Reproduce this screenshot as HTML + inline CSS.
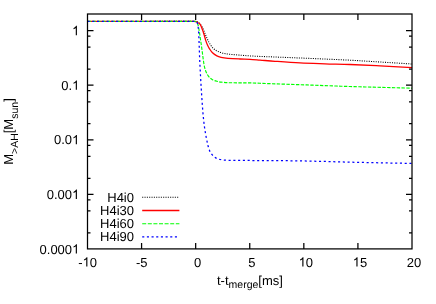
<!DOCTYPE html><html><head><meta charset="utf-8"><style>html,body{margin:0;padding:0;background:#fff;}svg{display:block;will-change:transform;opacity:0.999;}text{font-family:"Liberation Sans",sans-serif;fill:#000;text-rendering:geometricPrecision;}</style></head><body>
<svg width="436" height="304" viewBox="0 0 436 304">
<rect width="436" height="304" fill="#fff"/>
<g fill="none" stroke-linejoin="round">
<path d="M87.50,21.40 C108.33,21.40 129.17,21.40 150.00,21.40 C164.67,21.40 179.33,21.37 194.00,21.40 C194.50,21.40 195.00,21.45 195.50,21.50 C195.94,21.55 196.38,21.60 196.80,21.70 C197.21,21.80 197.63,21.91 198.00,22.10 C198.46,22.34 198.92,22.64 199.30,23.00 C199.82,23.50 200.28,24.10 200.70,24.70 C201.31,25.57 201.92,26.45 202.40,27.40 C203.09,28.75 203.61,30.20 204.20,31.60 C204.87,33.20 205.51,34.81 206.20,36.40 C206.84,37.88 207.50,39.35 208.20,40.80 C208.70,41.82 209.23,42.82 209.80,43.80 C210.16,44.42 210.59,45.01 211.00,45.60 C211.45,46.24 211.88,46.91 212.40,47.50 C212.88,48.05 213.43,48.55 214.00,49.00 C214.79,49.62 215.61,50.24 216.50,50.70 C217.84,51.40 219.25,52.06 220.70,52.50 C222.75,53.12 224.88,53.56 227.00,53.90 C229.51,54.30 232.06,54.48 234.60,54.70 C239.73,55.15 244.86,55.56 250.00,55.90 C253.33,56.12 256.67,56.26 260.00,56.40 C273.33,56.96 286.67,57.44 300.00,58.00 C316.67,58.70 333.34,59.37 350.00,60.20 C360.01,60.70 370.00,61.39 380.00,62.00 C390.67,62.65 401.33,63.33 412.00,64.00" stroke="#000" stroke-width="1.05" stroke-dasharray="1.05 1.28"/>
<path d="M87.50,21.40 C108.33,21.40 129.17,21.40 150.00,21.40 C164.67,21.40 179.33,21.37 194.00,21.40 C194.50,21.40 195.01,21.41 195.50,21.50 C195.94,21.58 196.40,21.71 196.80,21.90 C197.23,22.11 197.60,22.43 198.00,22.70 C198.54,23.06 199.17,23.33 199.60,23.80 C200.17,24.43 200.62,25.22 201.00,26.00 C201.59,27.22 202.04,28.52 202.50,29.80 C203.11,31.52 203.67,33.26 204.20,35.00 C204.77,36.86 205.19,38.76 205.80,40.60 C206.33,42.19 206.91,43.77 207.60,45.30 C208.14,46.51 208.78,47.69 209.50,48.80 C210.41,50.19 211.31,51.66 212.50,52.80 C213.78,54.03 215.33,55.07 216.90,55.90 C218.16,56.57 219.59,56.99 221.00,57.30 C223.26,57.79 225.59,58.09 227.90,58.30 C231.92,58.66 235.96,58.82 240.00,59.00 C243.33,59.15 246.67,59.12 250.00,59.30 C253.34,59.48 256.67,59.83 260.00,60.10 C265.00,60.50 270.00,60.95 275.00,61.30 C283.33,61.88 291.66,62.48 300.00,62.90 C308.33,63.32 316.67,63.53 325.00,63.80 C333.33,64.07 341.67,64.18 350.00,64.50 C360.00,64.88 370.00,65.40 380.00,65.90 C390.67,66.43 401.33,67.03 412.00,67.60" stroke="#ff0000" stroke-width="1.3"/>
<path d="M87.50,21.40 C108.33,21.40 129.17,21.40 150.00,21.40 C164.67,21.40 179.33,21.37 194.00,21.40 C194.50,21.40 195.01,21.40 195.50,21.50 C195.85,21.57 196.22,21.70 196.50,21.90 C196.82,22.13 197.13,22.44 197.30,22.80 C197.70,23.64 197.99,24.58 198.20,25.50 C198.65,27.44 198.98,29.43 199.30,31.40 C199.74,34.09 200.10,36.80 200.50,39.50 C200.97,42.67 201.46,45.83 201.90,49.00 C202.36,52.33 202.72,55.67 203.20,59.00 C203.56,61.51 203.87,64.03 204.40,66.50 C204.74,68.10 205.23,69.67 205.80,71.20 C206.26,72.44 206.82,73.67 207.50,74.80 C208.06,75.73 208.73,76.64 209.50,77.40 C210.39,78.27 211.40,79.12 212.50,79.70 C213.86,80.42 215.40,80.88 216.90,81.30 C218.24,81.68 219.62,81.92 221.00,82.10 C223.29,82.39 225.59,82.64 227.90,82.70 C235.26,82.90 242.64,82.76 250.00,82.90 C253.34,82.96 256.67,83.18 260.00,83.30 C273.33,83.78 286.67,84.23 300.00,84.70 C316.67,85.29 333.33,85.98 350.00,86.50 C370.66,87.15 391.33,87.63 412.00,88.20" stroke="#00ff00" stroke-width="1.15" stroke-dasharray="3.4 1.4"/>
<path d="M87.50,21.40 C108.33,21.40 129.17,21.40 150.00,21.40 C164.67,21.40 179.33,21.37 194.00,21.40 C194.50,21.40 195.01,21.40 195.50,21.50 C195.85,21.57 196.22,21.69 196.50,21.90 C196.79,22.12 197.05,22.46 197.20,22.80 C197.48,23.43 197.67,24.12 197.80,24.80 C198.04,26.02 198.18,27.26 198.30,28.50 C198.48,30.33 198.61,32.16 198.70,34.00 C198.91,38.00 199.05,42.00 199.20,46.00 C199.38,50.67 199.48,55.34 199.70,60.00 C200.14,69.20 200.63,78.40 201.20,87.60 C201.73,96.24 202.29,104.88 203.00,113.50 C203.36,117.81 203.86,122.11 204.40,126.40 C204.72,128.94 205.16,131.47 205.60,134.00 C205.96,136.07 206.37,138.14 206.80,140.20 C207.20,142.14 207.59,144.09 208.10,146.00 C208.49,147.49 208.93,148.98 209.50,150.40 C209.86,151.31 210.38,152.17 210.90,153.00 C211.31,153.67 211.79,154.31 212.30,154.90 C212.82,155.51 213.40,156.07 214.00,156.60 C214.53,157.07 215.08,157.56 215.70,157.90 C216.58,158.39 217.53,158.82 218.50,159.10 C219.86,159.49 221.29,159.73 222.70,159.90 C224.99,160.17 227.30,160.35 229.60,160.40 C236.40,160.55 243.20,160.45 250.00,160.50 C266.67,160.62 283.34,160.61 300.00,160.90 C320.00,161.25 340.00,161.95 360.00,162.40 C377.33,162.79 394.67,163.07 412.00,163.40" stroke="#0000ff" stroke-width="1.25" stroke-dasharray="2.1 2.66"/>
</g>
<g stroke="#000" stroke-width="1.25" fill="none" stroke-linecap="butt">
<rect x="87.50" y="14.00" width="324.50" height="234.90"/>
<path d="M141.58,248.90 v-6 M141.58,14.00 v6"/>
<path d="M195.67,248.90 v-6 M195.67,14.00 v6"/>
<path d="M249.75,248.90 v-6 M249.75,14.00 v6"/>
<path d="M303.83,248.90 v-6 M303.83,14.00 v6"/>
<path d="M357.92,248.90 v-6 M357.92,14.00 v6"/>
<path d="M87.50,30.60 h6 M412.00,30.60 h-6"/>
<path d="M87.50,36.10 h3 M412.00,36.10 h-3"/>
<path d="M87.50,47.20 h3 M412.00,47.20 h-3"/>
<path d="M87.50,69.10 h3 M412.00,69.10 h-3"/>
<path d="M87.50,85.18 h6 M412.00,85.18 h-6"/>
<path d="M87.50,90.68 h3 M412.00,90.68 h-3"/>
<path d="M87.50,101.78 h3 M412.00,101.78 h-3"/>
<path d="M87.50,123.68 h3 M412.00,123.68 h-3"/>
<path d="M87.50,139.75 h6 M412.00,139.75 h-6"/>
<path d="M87.50,145.25 h3 M412.00,145.25 h-3"/>
<path d="M87.50,156.35 h3 M412.00,156.35 h-3"/>
<path d="M87.50,178.25 h3 M412.00,178.25 h-3"/>
<path d="M87.50,194.33 h6 M412.00,194.33 h-6"/>
<path d="M87.50,199.83 h3 M412.00,199.83 h-3"/>
<path d="M87.50,210.93 h3 M412.00,210.93 h-3"/>
<path d="M87.50,232.83 h3 M412.00,232.83 h-3"/>
</g>
<g font-size="13.00">
<path transform="translate(82.54,266.50) scale(0.00635,-0.00635)" d="M763 0 H583 V1147 Q518 1085 412.5 1023 Q307 961 223 930 V1104 Q374 1175 487 1276 Q600 1377 647 1472 H763 Z" fill="#000"/>
<text x="78.21 89.76" y="266.50">-0</text>
<text x="135.90 140.23" y="266.50">-5</text>
<text x="194.05" y="266.50">0</text>
<text x="248.14" y="266.50">5</text>
<path transform="translate(298.61,266.50) scale(0.00635,-0.00635)" d="M763 0 H583 V1147 Q518 1085 412.5 1023 Q307 961 223 930 V1104 Q374 1175 487 1276 Q600 1377 647 1472 H763 Z" fill="#000"/>
<text x="305.83" y="266.50">0</text>
<path transform="translate(352.69,266.50) scale(0.00635,-0.00635)" d="M763 0 H583 V1147 Q518 1085 412.5 1023 Q307 961 223 930 V1104 Q374 1175 487 1276 Q600 1377 647 1472 H763 Z" fill="#000"/>
<text x="359.92" y="266.50">5</text>
<text x="406.77 414.00" y="266.50">20</text>
<path transform="translate(72.07,35.20) scale(0.00635,-0.00635)" d="M763 0 H583 V1147 Q518 1085 412.5 1023 Q307 961 223 930 V1104 Q374 1175 487 1276 Q600 1377 647 1472 H763 Z" fill="#000"/>
<path transform="translate(72.07,89.78) scale(0.00635,-0.00635)" d="M763 0 H583 V1147 Q518 1085 412.5 1023 Q307 961 223 930 V1104 Q374 1175 487 1276 Q600 1377 647 1472 H763 Z" fill="#000"/>
<text x="61.23 68.46" y="89.78">0.</text>
<path transform="translate(72.07,144.35) scale(0.00635,-0.00635)" d="M763 0 H583 V1147 Q518 1085 412.5 1023 Q307 961 223 930 V1104 Q374 1175 487 1276 Q600 1377 647 1472 H763 Z" fill="#000"/>
<text x="54.00 61.23 64.84" y="144.35">0.0</text>
<path transform="translate(72.07,198.93) scale(0.00635,-0.00635)" d="M763 0 H583 V1147 Q518 1085 412.5 1023 Q307 961 223 930 V1104 Q374 1175 487 1276 Q600 1377 647 1472 H763 Z" fill="#000"/>
<text x="46.77 54.00 57.62 64.84" y="198.93">0.00</text>
<path transform="translate(72.07,253.50) scale(0.00635,-0.00635)" d="M763 0 H583 V1147 Q518 1085 412.5 1023 Q307 961 223 930 V1104 Q374 1175 487 1276 Q600 1377 647 1472 H763 Z" fill="#000"/>
<text x="39.55 46.77 50.39 57.62 64.84" y="253.50">0.000</text>
<text x="134.0" y="201.60" text-anchor="end">H4i0</text>
<path d="M142.2,197.30 H179.4" stroke="#000" stroke-width="1.1" fill="none" stroke-dasharray="1.05 1.28"/>
<text x="134.0" y="214.80" text-anchor="end">H4i30</text>
<path d="M142.2,210.50 H179.4" stroke="#ff0000" stroke-width="1.3" fill="none"/>
<text x="134.0" y="228.00" text-anchor="end">H4i60</text>
<path d="M142.2,223.70 H179.4" stroke="#00ff00" stroke-width="1.1" fill="none" stroke-dasharray="4 1.6"/>
<text x="134.0" y="241.20" text-anchor="end">H4i90</text>
<path d="M142.2,236.90 H179.4" stroke="#0000ff" stroke-width="1.2" fill="none" stroke-dasharray="2.1 2.57"/>
<text x="217.0" y="285.0">t-t<tspan font-size="10.50" dy="2.6">merge</tspan><tspan dy="-2.6">[ms]</tspan></text>
<text transform="translate(12.6,164.8) rotate(-90)" x="0" y="0">M<tspan font-size="10.50" dy="5.10">&gt;AH</tspan><tspan dy="-5.10">[M</tspan><tspan font-size="10.50" dy="5.10">sun</tspan><tspan dy="-5.10">]</tspan></text>
</g>
</svg></body></html>
